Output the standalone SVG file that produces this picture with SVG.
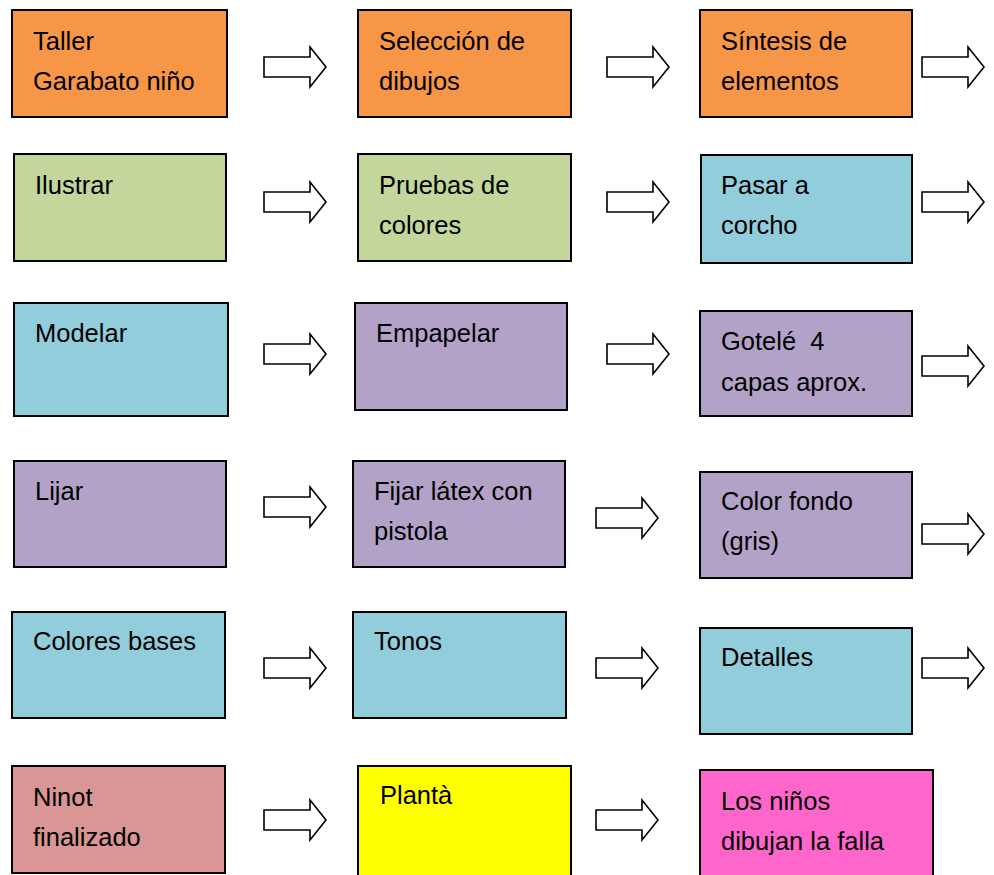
<svg xmlns="http://www.w3.org/2000/svg" width="994" height="875" viewBox="0 0 994 875">
<style>
.box{stroke:#000;stroke-width:2}
.t{font-family:"Liberation Sans",Arial,sans-serif;font-size:25.5px;fill:#000;white-space:pre}
.or{fill:#F79646}.gr{fill:#C3D69B}.bl{fill:#92CDDC}.pu{fill:#B2A2C7}.ro{fill:#D99694}.ye{fill:#FFFF00}.ma{fill:#FF66CC}
.arr{fill:#fff;stroke:#000;stroke-width:1.6;stroke-linejoin:miter}
</style>
<defs>
<path id="a" class="arr" d="M0,-10 H46 V-20 L62,0 L46,20 V10 H0 Z"/>
</defs>
<rect width="994" height="875" fill="#fff"/>
<g id="n1"><rect class="box or" x="12" y="10" width="215" height="107"/><text class="t" x="33" y="50">Taller</text><text class="t" x="33" y="90">Garabato niño</text></g>
<g id="n2"><rect class="box or" x="358" y="10" width="213" height="107"/><text class="t" x="379" y="50">Selección de</text><text class="t" x="379" y="90">dibujos</text></g>
<g id="n3"><rect class="box or" x="700" y="10" width="212" height="107"/><text class="t" x="721" y="50">Síntesis de</text><text class="t" x="721" y="90">elementos</text></g>
<g id="n4"><rect class="box gr" x="14" y="154" width="212" height="107"/><text class="t" x="35" y="194">Ilustrar</text></g>
<g id="n5"><rect class="box gr" x="358" y="154" width="213" height="107"/><text class="t" x="379" y="194">Pruebas de</text><text class="t" x="379" y="234">colores</text></g>
<g id="n6"><rect class="box bl" x="701" y="155" width="211" height="108"/><text class="t" x="721" y="194">Pasar a</text><text class="t" x="721" y="234">corcho</text></g>
<g id="n7"><rect class="box bl" x="14" y="303" width="214" height="113"/><text class="t" x="35" y="342">Modelar</text></g>
<g id="n8"><rect class="box pu" x="355" y="303" width="212" height="107"/><text class="t" x="376" y="342">Empapelar</text></g>
<g id="n9"><rect class="box pu" x="700" y="311" width="212" height="105"/><text class="t" x="721" y="350" xml:space="preserve">Gotelé  4</text><text class="t" x="721" y="391">capas aprox.</text></g>
<g id="n10"><rect class="box pu" x="14" y="461" width="212" height="106"/><text class="t" x="35" y="500">Lijar</text></g>
<g id="n11"><rect class="box pu" x="353" y="461" width="212" height="106"/><text class="t" x="374" y="500">Fijar látex con</text><text class="t" x="374" y="540">pistola</text></g>
<g id="n12"><rect class="box pu" x="700" y="472" width="212" height="106"/><text class="t" x="721" y="510">Color fondo</text><text class="t" x="721" y="550">(gris)</text></g>
<g id="n13"><rect class="box bl" x="12" y="612" width="213" height="106"/><text class="t" x="33" y="650">Colores bases</text></g>
<g id="n14"><rect class="box bl" x="353" y="612" width="213" height="106"/><text class="t" x="374" y="650">Tonos</text></g>
<g id="n15"><rect class="box bl" x="700" y="628" width="212" height="106"/><text class="t" x="721" y="666">Detalles</text></g>
<g id="n16"><rect class="box ro" x="12" y="766" width="213" height="107"/><text class="t" x="33" y="806">Ninot</text><text class="t" x="33" y="846">finalizado</text></g>
<g id="n17"><rect class="box ye" x="358" y="766" width="213" height="112"/><text class="t" x="380" y="804">Plantà</text></g>
<g id="n18"><rect class="box ma" x="700" y="770" width="233" height="108"/><text class="t" x="721" y="810">Los niños</text><text class="t" x="721" y="850">dibujan la falla</text></g>
<g id="connectors">
<use href="#a" x="264" y="67"/><use href="#a" x="607" y="67"/><use href="#a" x="922" y="67"/>
<use href="#a" x="264" y="202"/><use href="#a" x="607" y="202"/><use href="#a" x="922" y="202"/>
<use href="#a" x="264" y="354"/><use href="#a" x="607" y="354"/><use href="#a" x="922" y="366"/>
<use href="#a" x="264" y="507"/><use href="#a" x="596" y="518"/><use href="#a" x="922" y="534"/>
<use href="#a" x="264" y="668"/><use href="#a" x="596" y="668"/><use href="#a" x="922" y="668"/>
<use href="#a" x="264" y="820"/><use href="#a" x="596" y="820"/>
</g>
</svg>
